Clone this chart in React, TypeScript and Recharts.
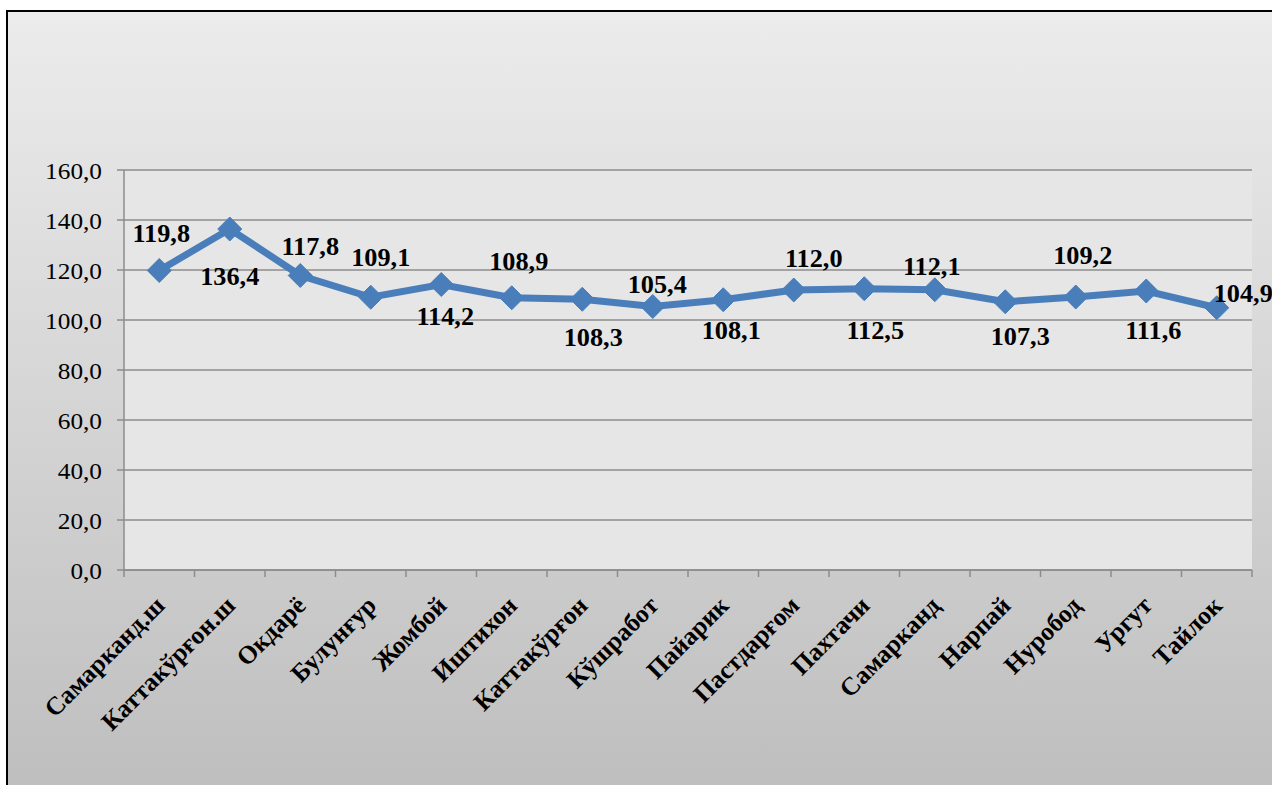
import React from "react";
import { LineChart, Line, XAxis, YAxis, CartesianGrid, LabelList } from "recharts";

const categories = [
  "Самарканд.ш",
  "Каттакўрғон.ш",
  "Окдарё",
  "Булунғур",
  "Жомбой",
  "Иштихон",
  "Каттакўрғон",
  "Кўшработ",
  "Пайарик",
  "Пастдарғом",
  "Пахтачи",
  "Самарканд",
  "Нарпай",
  "Нуробод",
  "Ургут",
  "Тайлок",
];

const values = [119.8, 136.4, 117.8, 109.1, 114.2, 108.9, 108.3, 105.4, 108.1, 112.0, 112.5, 112.1, 107.3, 109.2, 111.6, 104.9];

const yTicks = [0, 20, 40, 60, 80, 100, 120, 140, 160];

// manual label placement (label centre relative to marker), as in the source chart
const labelPlacement: [number, number][] = [
  [2, -37], [0, 47], [10, -29.5], [10, -40], [4, 32], [7, -36], [11, 38], [4.5, -21.7],
  [8, 31], [20, -32], [11, 42], [-3, -23], [15, 35], [7, -42], [7, 39], [26.5, -14],
];

const data = categories.map((name, i) => ({ i, name, value: values[i] }));
// category centres (integers) and category boundaries (half steps) share one axis
const xTicks: number[] = [];
for (let i = 0; i < categories.length; i++) {
  xTicks.push(i - 0.5, i);
}
xTicks.push(categories.length - 0.5);

const FONT = "'Liberation Serif', 'Times New Roman', serif";
const BLUE = "#4A7EBB";
const GRID = "#8c8c8c";

const fmt = (v: number) => v.toFixed(1).replace(".", ",");

const XTick = (props: any) => {
  const { x, y, payload } = props;
  const v = payload.value as number;
  if (!Number.isInteger(v)) {
    return <line x1={x} y1={y} x2={x} y2={y + 7} stroke={GRID} strokeWidth={1.5} />;
  }
  return (
    <g transform={`translate(${x + 7},${y + 37})`}>
      <text transform="rotate(-45)" textAnchor="end" fontFamily={FONT} fontWeight="bold" fontSize={25.5} fill="#000">
        {categories[v]}
      </text>
    </g>
  );
};

const YTick = (props: any) => {
  const { x, y, payload } = props;
  return (
    <g transform={`translate(${x},${y + 9})`}>
      <text transform="scale(1.1,1)" x={0} y={0} textAnchor="end" fontFamily={FONT} fontSize={23} fill="#000">
        {fmt(payload.value)}
      </text>
    </g>
  );
};

const Diamond = (props: any) => {
  const { cx, cy, index } = props;
  const s = 12;
  return (
    <polygon
      key={`d-${index}`}
      points={`${cx},${cy - s} ${cx + s},${cy} ${cx},${cy + s} ${cx - s},${cy}`}
      fill={BLUE}
      stroke={BLUE}
      strokeWidth={1}
    />
  );
};

const ValueLabel = (props: any) => {
  const { x, y, value } = props;
  let index = props.index;
  if (index === undefined || index === null) index = values.indexOf(value);
  const [dx, dy] = labelPlacement[index] || [0, -30];
  return (
    <g transform={`translate(${x + dx},${y + dy + 8.5})`}>
      <text
        transform="scale(1.05,1)"
        x={0}
        y={0}
        textAnchor="middle"
        fontFamily={FONT}
        fontWeight="bold"
        fontSize={25}
        fill="#000"
      >
        {fmt(value)}
      </text>
    </g>
  );
};

export default function App() {
  return (
    <div style={{ position: "fixed", left: 0, top: 0, width: 1272, height: 785, overflow: "hidden", background: "#fff" }}>
      <div
        style={{
          position: "absolute",
          left: 6,
          top: 10,
          width: 1300,
          height: 800,
          border: "2px solid #000",
          background: "linear-gradient(to bottom, #ececec 0%, #bdbdbd 100%)",
        }}
      />
      <div style={{ position: "absolute", left: 0, top: 0 }}>
        <LineChart width={1272} height={785} data={data} margin={{ top: 170, right: 20, bottom: 0, left: 0 }}>
          <CartesianGrid vertical={false} stroke={GRID} strokeWidth={1.5} fill="#e6e6e6" />
          <XAxis
            dataKey="i"
            type="number"
            domain={[-0.5, categories.length - 0.5]}
            allowDataOverflow
            ticks={xTicks}
            interval={0}
            tick={<XTick />}
            tickSize={0}
            tickMargin={0}
            height={215}
            axisLine={{ stroke: GRID, strokeWidth: 1.5 }}
            tickLine={false}
          />
          <YAxis
            type="number"
            domain={[0, 160]}
            ticks={yTicks}
            interval={0}
            width={124}
            tickSize={7}
            tickMargin={15}
            tick={<YTick />}
            axisLine={{ stroke: GRID, strokeWidth: 1.5 }}
            tickLine={{ stroke: GRID, strokeWidth: 1.5 }}
          />
          <Line
            type="linear"
            dataKey="value"
            stroke={BLUE}
            strokeWidth={7}
            dot={(p: any) => <Diamond key={`dot-${p.index}`} {...p} />}
            activeDot={false}
            isAnimationActive={false}
          >
            <LabelList dataKey="value" content={<ValueLabel />} />
          </Line>
        </LineChart>
      </div>
    </div>
  );
}
